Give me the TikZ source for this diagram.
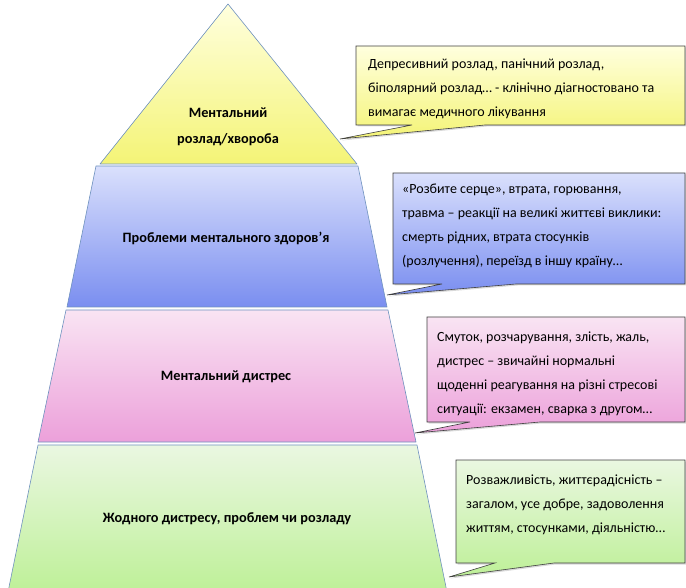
\documentclass[tikz,border=0pt]{standalone}
\usepackage{fontspec}
\setmainfont{Carlito}
\usetikzlibrary{calc,positioning,shadows}

\begin{document}
\begin{tikzpicture}[
            x=1pt,y=-1pt,
            layer/.style={draw=edgeblue,line width=0.6pt,line join=round},
            layertext/.style={font=\bfseries\fontsize{14.3}{26}\selectfont,align=center},
            callout/.style={draw=black!75,line width=0.6pt,line join=miter,
                drop shadow={shadow xshift=1.5pt,shadow yshift=-1.5pt,opacity=0.3}},
            notetext/.style={anchor=north west,align=left,inner sep=0pt,
                font=\fontsize{14}{23.8}\selectfont}
        ]
            \definecolor{edgeblue}{RGB}{110,145,190}
            \definecolor{ylwtop}{RGB}{255,255,222}
            \definecolor{ylwbot}{RGB}{244,244,118}
            \definecolor{blutop}{RGB}{218,224,252}
            \definecolor{blubot}{RGB}{122,142,240}
            \definecolor{pnktop}{RGB}{249,228,243}
            \definecolor{pnkbot}{RGB}{236,160,218}
            \definecolor{grntop}{RGB}{234,247,225}
            \definecolor{grnbot}{RGB}{190,240,152}

            \useasboundingbox (0,0) rectangle (686,588);

            % pyramid
            \coordinate (apex) at (228,4);
            \draw [layer,top color=ylwtop,bottom color=ylwbot] (apex) -- (357,164) -- (100,164) -- cycle;
            \draw [layer,top color=blutop,bottom color=blubot] (96,166) -- (358,166) -- (387,307) -- (67,307) -- cycle;
            \draw [layer,top color=pnktop,bottom color=pnkbot] (66,310) -- (388,310) -- (416,442) -- (38,442) -- cycle;
            \draw [layer,top color=grntop,bottom color=grnbot] (38,445) -- (417,445) -- (447,592) -- (8,592) -- cycle;

            \node (l1) [layertext] at (228,127) {Ментальний\\розлад/хвороба};
            \node (l2) [layertext] at (226,238) {Проблеми ментального здоров’я};
            \node (l3) [layertext] at (226,377) {Ментальний дистрес};
            \node (l4) [layertext] at (227,519) {Жодного дистресу, проблем чи розладу};

            % callouts
            \coordinate (tip1) at (340,139);
            \coordinate (tip2) at (387,295);
            \coordinate (tip3) at (415,433);
            \coordinate (tip4) at (449,577);

            \draw [callout,top color=ylwtop,bottom color=ylwbot] (356,46) -- (685,46) -- (685,125) -- (485,125) -- (tip1) -- (412,125) -- (356,125) -- cycle;
            \draw [callout,top color=blutop,bottom color=blubot] (393,173) -- (685,173) -- (685,284) -- (516,284) -- (tip2) -- (442,284) -- (393,284) -- cycle;
            \draw [callout,top color=pnktop,bottom color=pnkbot] (427,317) -- (685,317) -- (685,422) -- (540,422) -- (tip3) -- (470,422) -- (427,422) -- cycle;
            \draw [callout,top color=grntop,bottom color=grnbot] (456,460) -- (685,460) -- (685,563) -- (554,563) -- (tip4) -- (495,563) -- (456,563) -- cycle;

            \node (t1) [notetext] at (368,59) {Депресивний розлад, панічний розлад,\\біполярний розлад… - клінічно діагностовано та\\вимагає медичного лікування};
            \node (t2) [notetext] at (402,184) {«Розбите серце», втрата, горювання,\\травма – реакції на великі життєві виклики:\\смерть рідних, втрата стосунків\\(розлучення), переїзд в іншу країну…};
            \node (t3) [notetext] at (437,332) {Смуток, розчарування, злість, жаль,\\дистрес – звичайні нормальні\\щоденні реагування на різні стресові\\ситуації: екзамен, сварка з другом…};
            \node (t4) [notetext] at (466,475) {Розважливість, життєрадісність –\\загалом, усе добре, задоволення\\життям, стосунками, діяльністю…};
        \end{tikzpicture}
\end{document}
